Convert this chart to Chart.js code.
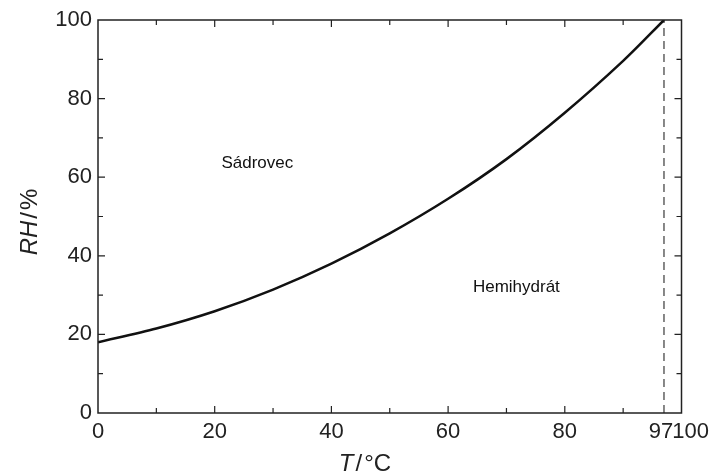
<!DOCTYPE html>
<html>
<head>
<meta charset="utf-8">
<script src="https://cdn.jsdelivr.net/npm/chart.js@4/dist/chart.umd.min.js"></script>
<style>
  body { margin: 0; background: #fff; }
  #wrap { width: 711px; height: 474px; }
</style>
</head>
<body>
<div id="wrap"><canvas id="phaseChart" width="711" height="474"></canvas></div>
<script>
// curve: temperature (°C) vs RH (%)
const temps = [0, 10, 20, 30, 40, 50, 60, 70, 80, 90, 97];
const rhValues = [18, 21.5, 25.9, 31.4, 38, 45.7, 54.5, 64.6, 76.4, 89.6, 100];

// dashed boundary at 97 °C
const boundaryT = [97, 97];
const boundaryRH = [0, 100];

// ticks
const xTickValues = [0, 20, 40, 60, 80, 97, 100];
const xMinorTicks = [10, 30, 50, 70, 90];
const xMajorMarks = [20, 40, 60, 80];
const yTickValues = [0, 20, 40, 60, 80, 100];
const yMinorTicks = [10, 30, 50, 70, 90];
const yMajorMarks = [20, 40, 60, 80];

// region labels
const regionNames = ['Sádrovec', 'Hemihydrát'];
const regionT = [27.3, 71.7];
const regionRH = [63.6, 32];

const FONT = '"Liberation Sans", Arial, sans-serif';

// italic symbol + upright unit, centred on cx
function mixedTitle(ctx, italicPart, rest, cx, y) {
    ctx.font = 'italic 24px ' + FONT;
    const iW = ctx.measureText(italicPart).width;
    ctx.font = '24px ' + FONT;
    const rW = ctx.measureText(rest).width;
    const sx = cx - (iW + rW) / 2;
    ctx.font = 'italic 24px ' + FONT;
    ctx.fillText(italicPart, sx, y);
    ctx.font = '24px ' + FONT;
    ctx.fillText(rest, sx + iW, y);
}

// frame, inward ticks, region labels, axis titles
const framePlugin = {
    id: 'frame',
    afterDraw(chart) {
        const ctx = chart.ctx;
        const a = chart.chartArea;
        const xs = chart.scales.x, ys = chart.scales.y;
        ctx.save();
        ctx.strokeStyle = '#222';
        ctx.lineWidth = 1.5;
        ctx.strokeRect(a.left, a.top, a.right - a.left, a.bottom - a.top);

        ctx.lineWidth = 1.2;
        ctx.beginPath();
        function xTick(v, len) {
            const px = xs.getPixelForValue(v);
            ctx.moveTo(px, a.bottom); ctx.lineTo(px, a.bottom - len);
            ctx.moveTo(px, a.top); ctx.lineTo(px, a.top + len);
        }
        function yTick(v, len) {
            const py = ys.getPixelForValue(v);
            ctx.moveTo(a.left, py); ctx.lineTo(a.left + len, py);
            ctx.moveTo(a.right, py); ctx.lineTo(a.right - len, py);
        }
        xMajorMarks.forEach(v => xTick(v, 7));
        xMinorTicks.forEach(v => xTick(v, 5));
        yMajorMarks.forEach(v => yTick(v, 7));
        yMinorTicks.forEach(v => yTick(v, 5));
        ctx.stroke();

        // region labels
        ctx.fillStyle = '#111';
        ctx.font = '17px ' + FONT;
        ctx.textAlign = 'center';
        ctx.textBaseline = 'middle';
        regionNames.forEach((name, i) => {
            ctx.fillText(name, xs.getPixelForValue(regionT[i]), ys.getPixelForValue(regionRH[i]));
        });

        // axis titles
        ctx.fillStyle = '#222';
        ctx.textBaseline = 'alphabetic';
        ctx.textAlign = 'left';
        mixedTitle(ctx, 'T', '\u200A/\u200A°C', 365, 471);

        ctx.translate(37, 222);
        ctx.rotate(-Math.PI / 2);
        mixedTitle(ctx, 'RH', '\u200A/\u200A%', 0, 0);
        ctx.restore();
    }
};

const curveData = temps.map((t, i) => ({ x: t, y: rhValues[i] }));
const boundaryData = boundaryT.map((t, i) => ({ x: t, y: boundaryRH[i] }));

const config = {
    type: 'scatter',
    data: {
        datasets: [{
            label: 'RH',
            data: curveData,
            showLine: true,
            borderColor: '#111',
            borderWidth: 2.5,
            pointRadius: 0,
            tension: 0.3
        }, {
            label: '97',
            data: boundaryData,
            showLine: true,
            borderColor: '#111',
            borderWidth: 1,
            borderDash: [8, 5],
            pointRadius: 0
        }]
    },
    options: {
        responsive: false,
        animation: false,
        layout: { padding: { left: 0, top: 20, right: 29.5, bottom: 0 } },
        plugins: {
            legend: { display: false },
            tooltip: { enabled: false }
        },
        scales: {
            x: {
                type: 'linear',
                min: 0,
                max: 100,
                grid: { display: false, drawTicks: false },
                border: { display: false },
                afterBuildTicks: scale => { scale.ticks = xTickValues.map(v => ({ value: v })); },
                afterFit: scale => {
                    scale.height = 61;
                    scale.paddingLeft = 0;
                    scale.paddingRight = 0;
                },
                ticks: {
                    autoSkip: false,
                    maxRotation: 0,
                    padding: 6,
                    color: '#222',
                    font: { family: FONT, size: 22 },
                    callback: v => (v === 100 ? '   100' : v === 97 ? '97 ' : String(v))
                }
            },
            y: {
                type: 'linear',
                min: 0,
                max: 100,
                grid: { display: false, drawTicks: false },
                border: { display: false },
                afterBuildTicks: scale => { scale.ticks = yTickValues.map(v => ({ value: v })); },
                afterFit: scale => {
                    scale.width = 98;
                    scale.paddingTop = 0;
                    scale.paddingBottom = 0;
                },
                ticks: {
                    padding: 6,
                    color: '#222',
                    font: { family: FONT, size: 22 }
                }
            }
        }
    },
    plugins: [framePlugin]
};

new Chart(document.getElementById('phaseChart'), config);
</script>
</body>
</html>
